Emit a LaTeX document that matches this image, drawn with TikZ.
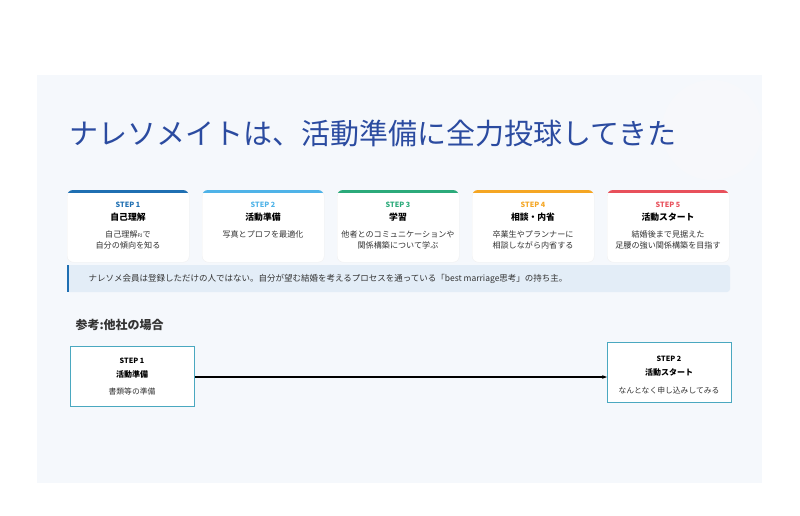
\documentclass[tikz,border=0pt]{standalone}
\usepackage{fontspec}
\setmainfont{Noto Sans CJK JP}
\usetikzlibrary{arrows.meta}
\definecolor{bgp}{HTML}{F5F8FC}
\definecolor{ttl}{HTML}{2B4BA0}
\definecolor{c1}{HTML}{1F6FB2}
\definecolor{c2}{HTML}{4FB3E8}
\definecolor{c3}{HTML}{2BAA7A}
\definecolor{c4}{HTML}{F5A623}
\definecolor{c5}{HTML}{E8505B}
\definecolor{ban}{HTML}{E3EDF7}
\definecolor{tx}{HTML}{333333}
\definecolor{bx}{HTML}{4AA8C0}
\begin{document}
\begin{tikzpicture}[x=1pt,y=-1pt,
 card/.style={fill=white,rounded corners=6pt,minimum width=122pt,minimum height=72pt,anchor=north west,draw=black!6},
 stp/.style={font=\fontsize{7.2}{8}\selectfont\bfseries},
 ttlc/.style={font=\fontsize{8.8}{9}\selectfont\bfseries,text=black},
 dsc/.style={font=\fontsize{8.1}{11}\selectfont,text=tx,align=center},
 obox/.style={draw=bx,line width=1.3pt,fill=white,minimum width=124pt,minimum height=60pt,anchor=north west}]
\useasboundingbox (0,0) rectangle (800,515);
\fill[white] (0,0) rectangle (800,515);
\fill[bgp] (37,75) rectangle (762,483);
\fill[ttl!4] (712,130) circle (50);
\node[anchor=west,text=ttl,font=\fontsize{29}{31}\selectfont] (title) at (66,133) {ナレソメイトは、活動準備に全力投球してきた};
\foreach \i/\c/\s/\t/\d in {0/c1/STEP 1/自己理解/{自己理解{\fontsize{5}{5}\selectfont PJ}で\\自分の傾向を知る},
 1/c2/STEP 2/活動準備/{写真とプロフを最適化},
 2/c3/STEP 3/学習/{他者とのコミュニケーションや\\関係構築について学ぶ},
 3/c4/STEP 4/相談・内省/{卒業生やプランナーに\\相談しながら内省する},
 4/c5/STEP 5/活動スタート/{結婚後まで見据えた\\足腰の強い関係構築を目指す}}{
 \node[card] (k\i) at (67+135*\i,190) {};
 \begin{scope}
 \clip[rounded corners=6pt] (67+135*\i,190) rectangle ++(122,20);
 \fill[\c] (67+135*\i,190) rectangle ++(122,2.5);
 \end{scope}
 \node[stp,text=\c] (s\i) at (128+135*\i,205) {\s};
 \node[ttlc] (t\i) at (128+135*\i,217) {\t};
 \node[dsc,anchor=north] (d\i) at (128+135*\i,227) {\d};
}
\fill[ban,rounded corners=3pt] (67,265) rectangle (730,292);
\fill[c1] (67,265) rectangle (69,292);
\node[anchor=west,font=\fontsize{8.5}{9}\selectfont,text=tx] (bt) at (85,279) {ナレソメ会員は登録しただけの人ではない。自分が望む結婚を考えるプロセスを通っている「best marriage思考」の持ち主。};
\node[anchor=west,font=\fontsize{12}{13}\selectfont\bfseries,text=tx] (ref) at (72,325) {参考:他社の場合};
\node[obox] (o1) at (70,346) {};
\node[stp,text=black] at (132,361) {STEP 1};
\node[ttlc,font=\fontsize{8}{9}\selectfont\bfseries] at (132,374) {活動準備};
\node[dsc,font=\fontsize{7.8}{8}\selectfont] at (132,392) {書類等の準備};
\node[obox] (o2) at (607,342) {};
\node[stp,text=black] at (669,359) {STEP 2};
\node[ttlc,font=\fontsize{8}{9}\selectfont\bfseries] at (669,372) {活動スタート};
\node[dsc,font=\fontsize{7.8}{8}\selectfont] at (669,391) {なんとなく申し込みしてみる};
\coordinate (ae) at (607,377);
\draw[line width=1.4pt,-{Stealth[length=5pt]}] (o1.east|-ae) -- (ae);
\end{tikzpicture}
\end{document}
